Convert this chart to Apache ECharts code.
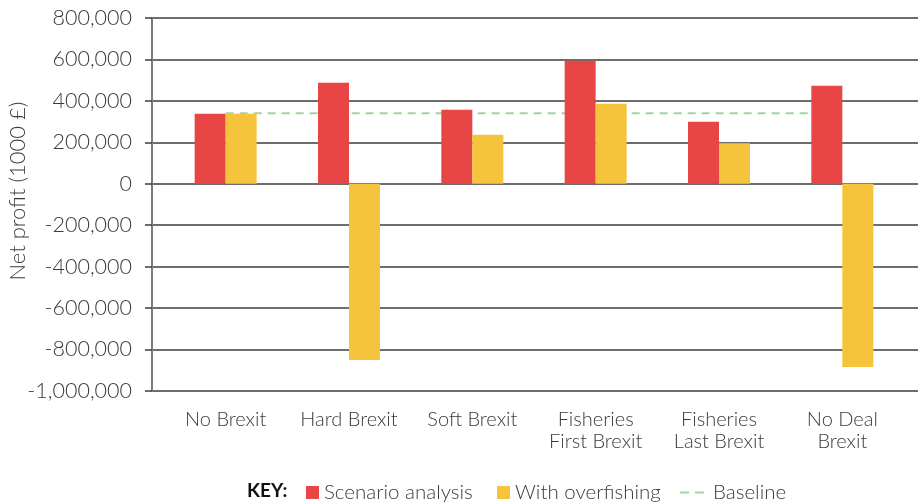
<!DOCTYPE html>
<html>
<head>
<meta charset="utf-8">
<script src="https://cdn.jsdelivr.net/npm/echarts@6/dist/echarts.min.js"></script>
<style>
  html, body { margin: 0; padding: 0; background: #fff; }
  #chart { width: 918px; height: 504px; }
</style>
</head>
<body>
<div id="chart"></div>
<script>
// scenarios on the x axis
const categories = ['No Brexit', 'Hard Brexit', 'Soft Brexit', 'Fisheries\nFirst Brexit', 'Fisheries\nLast Brexit', 'No Deal\nBrexit']
// net profit (1000 £)
const scenarioAnalysis = [338000, 488000, 357000, 594000, 299000, 473000]
const withOverfishing = [338000, -850000, 237000, 386000, 195000, -884000]
const baseline = [340000, 340000, 340000, 340000, 340000, 340000]
const yTicks = { min: -1000000, max: 800000, interval: 200000 }

const FONT = 'Lato'
const TEXT = '#3a3a3a'
const RED = '#e84545'
const YELLOW = '#f6c43c'
const GREEN = '#a2d3a2'

const chart = echarts.init(document.getElementById('chart'))

const fmt = v => v.toLocaleString('en-US')
const legendText = { fontFamily: FONT, fontWeight: 300, fontSize: 20.5, color: TEXT }

chart.setOption({
  animation: false,
  backgroundColor: '#fff',
  textStyle: { fontFamily: FONT, color: TEXT },
  grid: [
    // grid lines + y axis span the full width
    { left: 152, right: 0, top: 18, bottom: 113 },
    // bars sit a bit inside it
    { left: 164, right: 14, top: 18, bottom: 113 }
  ],
  xAxis: [
    { gridIndex: 0, type: 'value', show: false, min: 0, max: 1 },
    {
      gridIndex: 1,
      type: 'category',
      data: categories,
      axisLine: { show: false },
      axisTick: { show: false },
      axisLabel: {
        margin: 18,
        fontFamily: FONT,
        fontWeight: 300,
        fontSize: 20,
        lineHeight: 22,
        color: TEXT,
        interval: 0
      }
    }
  ],
  yAxis: [
    {
      gridIndex: 0,
      type: 'value',
      min: yTicks.min,
      max: yTicks.max,
      interval: yTicks.interval,
      axisLine: { show: true, lineStyle: { color: '#7a7a7a', width: 2 } },
      axisTick: { show: true, length: 7, lineStyle: { color: '#3c3c3c', width: 1.5 } },
      axisLabel: {
        margin: 20,
        formatter: fmt,
        fontFamily: FONT,
        fontWeight: 300,
        fontSize: 21.5,
        color: TEXT
      },
      splitLine: { show: true, lineStyle: { color: '#3c3c3c', width: 1.5 } }
    },
    {
      gridIndex: 1,
      type: 'value',
      min: yTicks.min,
      max: yTicks.max,
      interval: yTicks.interval,
      show: false,
      splitLine: { show: false }
    }
  ],
  legend: [
    {
      data: [{ name: 'Scenario analysis', icon: 'rect' }],
      left: 301, top: 477,
      itemWidth: 13, itemHeight: 13, itemGap: 0,
      textStyle: legendText
    },
    {
      data: [{ name: 'With overfishing', icon: 'rect' }],
      left: 492, top: 477,
      itemWidth: 13, itemHeight: 13, itemGap: 0,
      textStyle: legendText
    },
    {
      data: [{ name: 'Baseline', icon: 'path://M0,0h9v2h-9z M15,0h9v2h-9z' }],
      left: 675, top: 477,
      itemWidth: 24, itemHeight: 2, itemGap: 0,
      textStyle: Object.assign({}, legendText, { padding: [0, 0, 0, 4] })
    }
  ],
  graphic: [
    {
      type: 'text',
      left: 247, top: 481,
      style: { text: 'KEY:', fontFamily: FONT, fontWeight: 'bold', fontSize: 19, fill: '#111' }
    },
    {
      type: 'text',
      x: 18, y: 191,
      rotation: Math.PI / 2,
      style: {
        text: 'Net profit (1000 £)',
        fontFamily: FONT, fontWeight: 300, fontSize: 22, fill: TEXT,
        align: 'center', verticalAlign: 'middle'
      }
    }
  ],
  series: [
    {
      name: 'Baseline',
      type: 'line',
      xAxisIndex: 1,
      yAxisIndex: 1,
      data: baseline,
      symbol: 'none',
      z: 1,
      itemStyle: { color: GREEN },
      lineStyle: { color: GREEN, width: 2, type: [8, 6] }
    },
    {
      name: 'Scenario analysis',
      type: 'bar',
      xAxisIndex: 1,
      yAxisIndex: 1,
      data: scenarioAnalysis,
      barWidth: 31,
      barGap: '0%',
      itemStyle: { color: RED }
    },
    {
      name: 'With overfishing',
      type: 'bar',
      xAxisIndex: 1,
      yAxisIndex: 1,
      data: withOverfishing,
      barWidth: 31,
      barGap: '0%',
      itemStyle: { color: YELLOW }
    }
  ]
})
</script>
</body>
</html>
